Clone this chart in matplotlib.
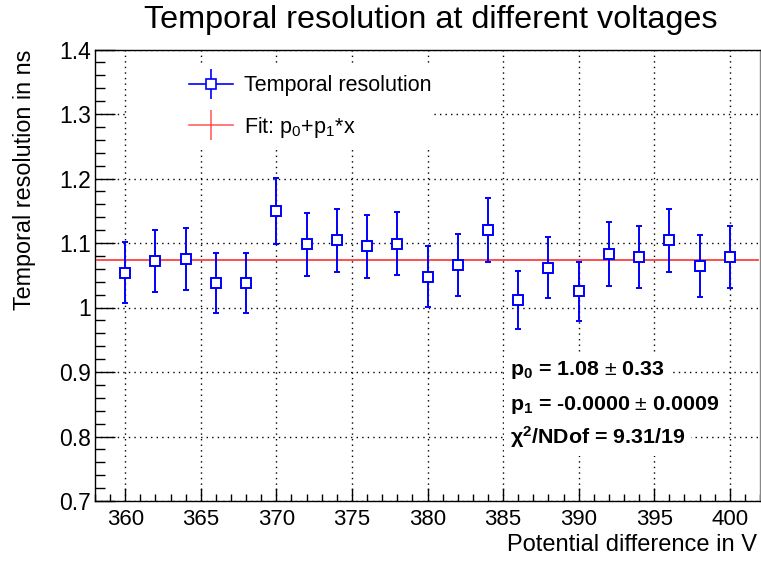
import numpy as np
import matplotlib
matplotlib.use("Agg")
import matplotlib.pyplot as plt
from matplotlib.lines import Line2D
from matplotlib.patches import Rectangle
from matplotlib.ticker import MultipleLocator

plt.rcParams['font.family'] = ['Liberation Sans', 'DejaVu Sans']
plt.rcParams['mathtext.fontset'] = 'custom'
plt.rcParams['mathtext.rm'] = 'Liberation Sans'
plt.rcParams['mathtext.it'] = 'Liberation Sans'
plt.rcParams['mathtext.bf'] = 'Liberation Sans:bold'

# ---- data ----
voltages = [360, 362, 364, 366, 368, 370, 372, 374, 376, 378, 380,
            382, 384, 386, 388, 390, 392, 394, 396, 398, 400]
resolution = [1.054, 1.072, 1.075, 1.038, 1.038, 1.150, 1.098, 1.104, 1.095, 1.099, 1.048,
              1.066, 1.120, 1.011, 1.062, 1.025, 1.083, 1.079, 1.104, 1.065, 1.079]
res_err = [0.047, 0.048, 0.048, 0.046, 0.046, 0.051, 0.049, 0.049, 0.049, 0.049, 0.047,
           0.048, 0.050, 0.045, 0.047, 0.046, 0.049, 0.048, 0.049, 0.048, 0.048]
fit_intercept = 1.073
fit_slope = 0.0
x_ticks = [360, 365, 370, 375, 380, 385, 390, 395, 400]
y_ticks = [0.7, 0.8, 0.9, 1.0, 1.1, 1.2, 1.3, 1.4]
y_ticklabels = ["0.7", "0.8", "0.9", "1", "1.1", "1.2", "1.3", "1.4"]
stats_lines = [r"p$_{\mathbf{0}}$ = 1.08 $\pm$ 0.33",
               r"p$_{\mathbf{1}}$ = -0.0000 $\pm$ 0.0009",
               r"χ$^{\mathbf{2}}$/NDof = 9.31/19"]

W, H = 761, 561
fig = plt.figure(figsize=(W / 100, H / 100), dpi=100)
ax = fig.add_axes([95 / W, 60 / H, 665 / W, 451.5 / H])

ax.set_xlim(358, 402)
ax.set_ylim(0.7, 1.4)

blue = '#0000ff'
red = '#ff2020'

# fit line
xl = ax.get_xlim()
xf = np.array([xl[0] + 0.15, xl[1] - 0.1])
ax.plot(xf, fit_intercept + fit_slope * xf, color=red, lw=1.3, alpha=0.85, zorder=3)

# data
ax.errorbar(voltages, resolution, yerr=res_err, fmt='s', color=blue,
            mfc='white', mec=blue, ms=7.5, mew=1.4, elinewidth=1.4,
            capsize=2.5, capthick=1.4, zorder=4)

# grid & ticks
ax.set_xticks(x_ticks)
ax.set_yticks(y_ticks)
ax.set_yticklabels(y_ticklabels)
ax.xaxis.set_minor_locator(MultipleLocator(1))
ax.yaxis.set_minor_locator(MultipleLocator(0.02))
ax.grid(True, which='major', color='black', linestyle=(0, (1, 3)), lw=1.0)
ax.tick_params(axis='x', which='major', direction='in', length=9.5, width=1, pad=6,
               labelsize=16, top=False)
ax.tick_params(axis='x', which='minor', direction='in', length=4.8, width=1, top=False)
ax.tick_params(axis='y', which='major', direction='in', length=14.5, width=1, pad=3,
               labelsize=16.5, right=False)
ax.tick_params(axis='y', which='minor', direction='in', length=7.2, width=1, right=False)
for s in ax.spines.values():
    s.set_linewidth(1.0)
ax.spines['right'].set_color('#888888')

# legend background box
ax.add_patch(Rectangle((0.048, 0.784), 0.46, 0.186, transform=ax.transAxes,
                       facecolor='white', edgecolor='none', zorder=2.5))
h1 = (Line2D([], [], color=blue, lw=1.2),
      Line2D([], [], color=blue, marker='|', ms=22, mew=1.2, linestyle='none'),
      Line2D([], [], color=blue, marker='s', ms=7.5, mfc='white', mew=1.2, linestyle='none'))
h2 = (Line2D([], [], color=red, lw=1.2, alpha=0.7),
      Line2D([], [], color=red, marker='|', ms=22, mew=1.2, alpha=0.7, linestyle='none'))
leg = ax.legend([h1, h2], ["Temporal resolution", r"Fit: p$_{0}$+p$_{1}$*x"],
                loc='upper left', bbox_to_anchor=(0.116, 0.981), frameon=False,
                fontsize=15.5, handlelength=2.05, handletextpad=0.5, labelspacing=0.85,
                borderpad=0.3)
leg.set_zorder(5)

# stats text
ys = [370, 405, 437]
for t, yy in zip(stats_lines, ys):
    fig.text(510 / W, 1 - yy / H, t, fontsize=15.4, fontweight='bold', ha='left', va='center',
             bbox=dict(facecolor='white', edgecolor='none', pad=4), zorder=6)

# titles
fig.text(431 / W, 1 - 20 / H, "Temporal resolution at different voltages",
         fontsize=23.3, ha='center', va='center')
fig.text(757 / W, 1 - 545 / H, "Potential difference in V", fontsize=17,
         ha='right', va='center')
fig.text(25 / W, 1 - 50 / H, "Temporal resolution in ns", fontsize=16.8,
         rotation=90, ha='center', va='top')

fig.savefig("out.png", dpi=100)
